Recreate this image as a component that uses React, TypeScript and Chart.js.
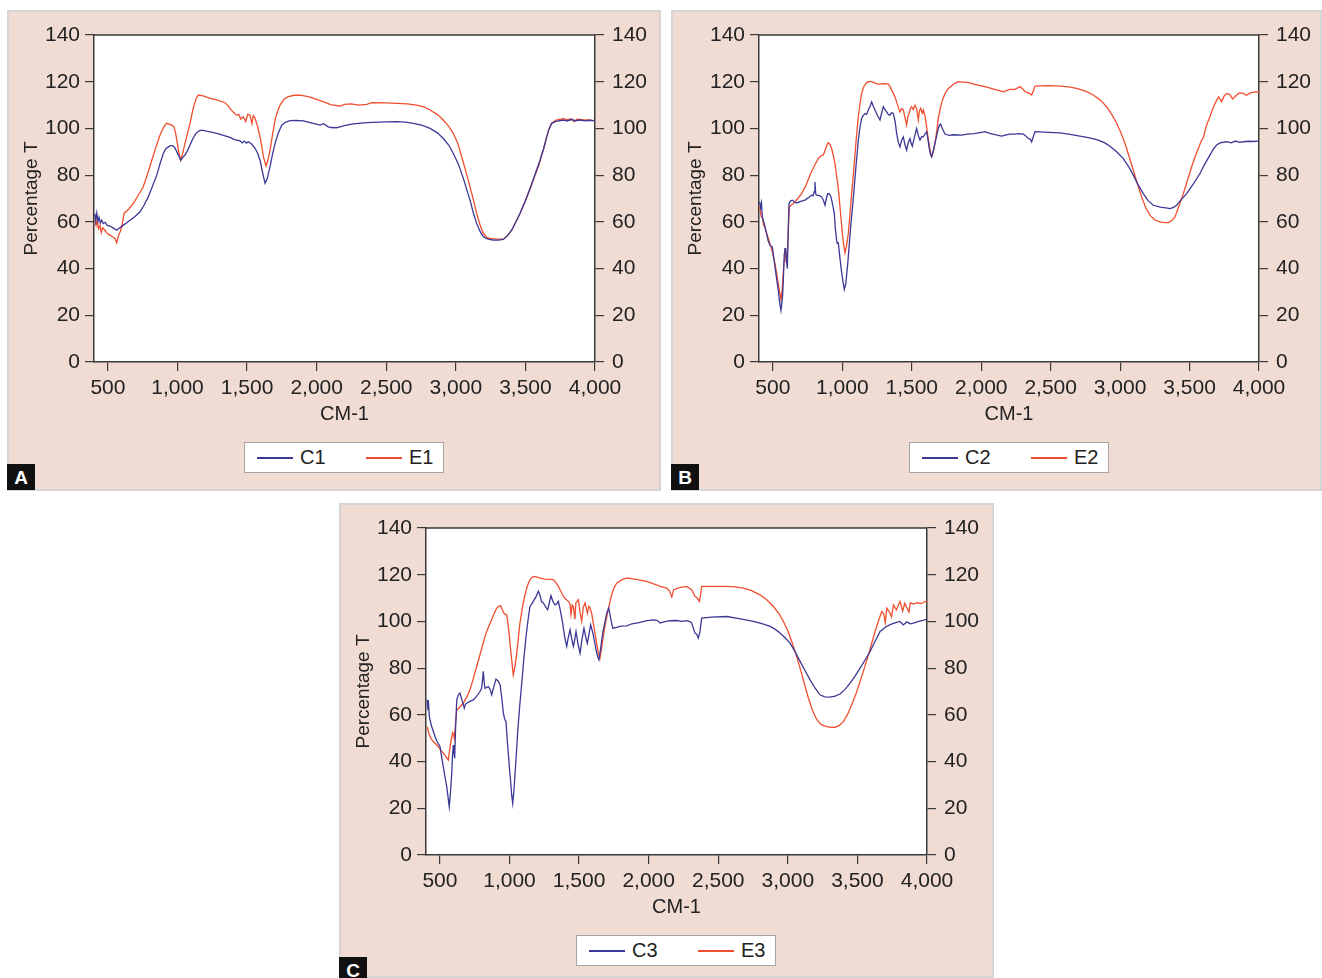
import React, { useEffect, useRef } from 'react';
import { Chart, registerables } from 'chart.js';

Chart.register(...registerables);

const FONT = "'Liberation Sans', Arial, Helvetica, sans-serif";
const BG = '#f0dcd3';
const BLUE = '#3b3896';
const RED = '#f04e2e';
const AXIS = '#3a3a3a';
const TEXT = '#222222';

const X_TICKS = [500, 1000, 1500, 2000, 2500, 3000, 3500, 4000];
const Y_TICKS = [0, 20, 40, 60, 80, 100, 120, 140];
const X_TITLE = 'CM-1';
const Y_TITLE = 'Percentage T';

// Panel A
const C1: number[][] = [
  [405, 63.6], [412, 60.5], [420, 63.8], [428, 60.2], [436, 62.0], [445, 59.5], [455, 60.8], [467, 59.3],
  [480, 59.8], [495, 58.5], [515, 58.2], [540, 57.3], [563, 56.4], [585, 57.5], [611, 58.6], [635, 59.6],
  [659, 60.7], [695, 62.3], [731, 64.3], [760, 67.2], [790, 70.7], [820, 75.2], [851, 80.0], [875, 85.0],
  [898, 89.3], [915, 91.2], [934, 92.1], [950, 92.6], [965, 92.6], [978, 92.0], [989, 90.7], [1005, 88.8],
  [1023, 86.4], [1038, 87.6], [1054, 88.6], [1072, 90.5], [1090, 92.9], [1110, 95.6], [1133, 97.9], [1155, 99.0],
  [1174, 99.3], [1210, 98.8], [1250, 98.3], [1282, 97.9], [1330, 97.0], [1377, 96.2], [1410, 95.2], [1449, 94.7],
  [1465, 93.8], [1480, 94.6], [1495, 93.7], [1509, 94.3], [1535, 93.2], [1557, 91.5], [1575, 89.5], [1593, 86.4],
  [1610, 81.5], [1629, 76.5], [1645, 78.5], [1665, 83.6], [1683, 89.0], [1701, 93.6], [1725, 98.2], [1749, 101.4],
  [1775, 102.6], [1808, 103.3], [1850, 103.4], [1904, 103.2], [1960, 102.4], [2024, 101.4], [2050, 102.0], [2080, 100.8],
  [2100, 100.4], [2144, 100.3], [2168, 100.7], [2200, 101.2], [2250, 101.8], [2335, 102.4], [2400, 102.6], [2500, 102.8],
  [2575, 102.9], [2640, 102.7], [2695, 102.2], [2760, 101.3], [2815, 100.0], [2870, 98.0], [2910, 95.7], [2950, 92.8],
  [2982, 89.3], [3020, 84.5], [3054, 78.6], [3080, 73.5], [3102, 69.3], [3125, 64.0], [3150, 59.3], [3175, 55.8],
  [3198, 53.6], [3230, 52.6], [3269, 52.2], [3305, 52.2], [3341, 52.5], [3370, 54.0], [3401, 56.4], [3430, 59.8],
  [3461, 63.6], [3500, 69.0], [3533, 74.3], [3570, 80.5], [3605, 86.4], [3630, 91.2], [3653, 96.4], [3670, 99.8],
  [3689, 102.2], [3720, 103.0], [3773, 103.6], [3800, 103.2], [3830, 103.8], [3860, 103.3], [3892, 103.6], [3930, 103.2],
  [3960, 103.5], [3988, 103.3], [4000, 103.3],
];

const E1: number[][] = [
  [405, 60.7], [415, 58.5], [423, 61.0], [432, 57.0], [443, 58.5], [452, 55.5], [462, 57.5], [479, 56.4],
  [495, 55.0], [515, 54.3], [535, 53.5], [551, 52.9], [563, 51.0], [575, 54.0], [582, 55.0], [590, 56.0],
  [599, 57.9], [616, 63.6], [650, 65.5], [682, 67.9], [720, 71.5], [754, 75.0], [785, 80.5], [815, 86.4],
  [845, 92.0], [874, 97.1], [900, 100.5], [922, 102.2], [940, 101.8], [958, 101.4], [975, 100.7], [988, 97.5],
  [999, 93.6], [1010, 89.5], [1023, 86.4], [1038, 89.5], [1054, 93.6], [1072, 98.0], [1090, 102.2], [1105, 106.5],
  [1119, 110.0], [1135, 113.0], [1150, 114.3], [1185, 113.9], [1230, 113.0], [1282, 112.2], [1341, 111.0], [1360, 110.0],
  [1377, 108.6], [1400, 107.0], [1425, 105.7], [1440, 106.0], [1455, 104.0], [1473, 105.0], [1490, 103.0], [1505, 106.0],
  [1521, 105.7], [1535, 102.0], [1545, 105.5], [1557, 104.3], [1575, 101.0], [1593, 96.4], [1605, 92.5], [1617, 87.9],
  [1636, 83.9], [1650, 86.5], [1665, 90.7], [1683, 97.5], [1701, 103.6], [1720, 107.5], [1737, 110.0], [1765, 112.5],
  [1796, 113.6], [1840, 114.2], [1880, 114.3], [1940, 113.6], [2000, 112.4], [2050, 111.4], [2100, 110.2], [2144, 109.8],
  [2168, 109.6], [2200, 110.3], [2250, 110.5], [2300, 110.0], [2360, 110.3], [2396, 111.0], [2500, 110.9], [2575, 110.7],
  [2650, 110.5], [2719, 110.0], [2770, 109.2], [2815, 107.9], [2870, 105.8], [2910, 103.6], [2950, 100.8], [2982, 97.9],
  [3015, 93.5], [3042, 87.9], [3075, 81.0], [3102, 75.0], [3128, 69.0], [3150, 63.6], [3175, 58.5], [3198, 55.0],
  [3225, 53.2], [3246, 52.9], [3290, 52.6], [3341, 52.6], [3370, 54.0], [3401, 56.4], [3430, 59.8], [3461, 63.6],
  [3500, 69.0], [3533, 74.0], [3570, 80.0], [3595, 84.0], [3605, 86.0], [3615, 88.5], [3630, 91.0], [3653, 96.4],
  [3670, 99.8], [3689, 102.2], [3720, 103.6], [3773, 104.2], [3800, 103.8], [3830, 104.2], [3850, 102.8], [3870, 104.0],
  [3892, 103.9], [3930, 103.6], [3960, 103.7], [3988, 103.3], [4000, 103.3],
];

// Panel B
const C2: number[][] = [
  [405, 68.6], [412, 66.0], [418, 68.0], [424, 62.1], [431, 60.5], [438, 59.3], [446, 57.0], [455, 55.0],
  [465, 52.0], [479, 50.0], [488, 49.5], [496, 49.3], [505, 45.0], [515, 40.7], [527, 35.5], [539, 30.7],
  [550, 25.0], [558, 22.1], [565, 25.5], [571, 29.3], [577, 38.0], [582, 46.4], [586, 48.5], [592, 48.6],
  [597, 44.0], [604, 40.0], [610, 55.0], [616, 67.9], [628, 69.0], [640, 69.3], [655, 68.5], [671, 68.1],
  [700, 68.8], [731, 69.3], [760, 70.5], [779, 71.4], [790, 71.2], [798, 73.0], [803, 77.1], [808, 72.0],
  [815, 71.4], [835, 71.2], [851, 70.7], [862, 69.5], [875, 67.1], [885, 70.0], [895, 72.1], [907, 72.0],
  [918, 70.7], [930, 67.5], [942, 63.6], [950, 57.0], [959, 52.1], [964, 50.8], [971, 51.0], [980, 46.0],
  [990, 40.7], [1002, 35.5], [1014, 31.0], [1025, 33.5], [1039, 42.1], [1050, 50.5], [1062, 59.3], [1075, 67.5],
  [1086, 75.0], [1100, 85.0], [1115, 95.0], [1127, 100.5], [1139, 104.3], [1150, 105.5], [1163, 106.4], [1175, 106.0],
  [1187, 107.9], [1200, 109.5], [1211, 111.4], [1223, 109.5], [1235, 107.9], [1253, 105.5], [1271, 103.6], [1283, 106.5],
  [1295, 109.3], [1307, 108.0], [1319, 107.1], [1331, 106.0], [1343, 105.7], [1355, 106.8], [1367, 106.4], [1380, 103.0],
  [1391, 97.9], [1403, 94.0], [1415, 92.1], [1427, 95.0], [1439, 96.4], [1451, 93.0], [1463, 90.7], [1475, 94.0],
  [1487, 95.7], [1496, 93.5], [1504, 92.4], [1520, 96.5], [1535, 100.0], [1547, 97.0], [1559, 95.0], [1571, 96.5],
  [1583, 96.4], [1595, 97.5], [1607, 98.6], [1615, 96.0], [1624, 92.1], [1634, 89.0], [1643, 87.9], [1655, 90.5],
  [1667, 93.6], [1680, 97.0], [1691, 100.0], [1700, 101.5], [1708, 101.9], [1720, 100.0], [1739, 97.6], [1770, 97.0],
  [1800, 97.3], [1859, 97.1], [1900, 97.6], [1950, 97.8], [1990, 98.2], [2027, 98.6], [2060, 97.9], [2100, 97.3],
  [2147, 96.7], [2180, 97.2], [2207, 97.6], [2243, 97.6], [2270, 97.8], [2303, 97.6], [2320, 96.8], [2339, 95.7],
  [2352, 95.5], [2363, 94.3], [2375, 96.5], [2387, 98.6], [2450, 98.4], [2567, 98.1], [2640, 97.5], [2711, 96.7],
  [2780, 96.0], [2843, 95.0], [2890, 93.8], [2927, 92.4], [2975, 90.0], [3023, 87.1], [3060, 83.8], [3095, 80.0],
  [3130, 75.8], [3167, 72.1], [3200, 69.2], [3239, 67.1], [3290, 66.3], [3330, 66.0], [3359, 65.7], [3385, 66.2],
  [3407, 67.1], [3440, 69.5], [3479, 72.1], [3530, 76.5], [3575, 80.7], [3610, 84.8], [3647, 88.6], [3670, 91.0],
  [3695, 92.9], [3720, 93.8], [3767, 94.3], [3800, 93.8], [3830, 94.6], [3860, 94.0], [3887, 94.3], [3920, 94.5],
  [3950, 94.4], [3995, 94.6], [4000, 94.6],
];

const E2: number[][] = [
  [405, 66.4], [415, 62.5], [425, 61.5], [433, 58.5], [443, 57.9], [455, 55.0], [467, 53.0], [479, 50.7],
  [497, 47.0], [515, 42.1], [527, 38.0], [539, 33.6], [550, 29.5], [558, 26.7], [566, 30.5], [573, 36.4],
  [580, 43.0], [587, 48.6], [594, 46.0], [601, 42.1], [608, 52.0], [618, 66.4], [632, 67.2], [647, 67.9],
  [677, 69.8], [707, 72.1], [737, 75.5], [767, 80.0], [797, 83.8], [827, 87.1], [845, 88.3], [863, 88.6],
  [872, 90.0], [880, 91.4], [890, 93.0], [899, 93.9], [910, 93.2], [923, 91.4], [935, 88.5], [947, 85.0],
  [957, 80.5], [967, 76.4], [975, 72.0], [983, 66.4], [992, 60.5], [1000, 55.0], [1010, 50.0], [1019, 46.7],
  [1030, 49.5], [1043, 55.0], [1055, 63.5], [1067, 72.1], [1078, 79.5], [1086, 85.0], [1100, 95.5], [1115, 105.0],
  [1127, 110.5], [1139, 115.0], [1157, 118.2], [1175, 119.6], [1195, 120.1], [1211, 120.0], [1235, 119.4], [1259, 119.0],
  [1295, 119.2], [1331, 119.0], [1343, 118.0], [1355, 116.4], [1367, 115.0], [1379, 113.6], [1395, 110.5], [1415, 107.1],
  [1427, 108.5], [1439, 107.9], [1450, 105.0], [1463, 101.4], [1472, 105.0], [1480, 106.4], [1490, 108.5], [1499, 109.3],
  [1511, 108.0], [1523, 110.0], [1535, 108.5], [1547, 103.6], [1555, 107.5], [1564, 108.6], [1575, 106.5], [1583, 107.9],
  [1595, 105.5], [1607, 100.7], [1615, 97.0], [1624, 93.6], [1634, 90.0], [1643, 87.9], [1655, 90.0], [1667, 93.6],
  [1680, 99.0], [1691, 104.3], [1705, 108.5], [1720, 112.1], [1740, 115.0], [1763, 117.1], [1800, 118.9], [1835, 120.0],
  [1870, 119.8], [1907, 119.6], [1960, 118.8], [2027, 117.9], [2090, 116.8], [2130, 116.2], [2159, 115.7], [2185, 116.3],
  [2207, 116.7], [2243, 116.7], [2279, 117.9], [2300, 116.8], [2315, 115.7], [2340, 115.2], [2363, 114.3], [2375, 116.0],
  [2387, 118.1], [2480, 118.3], [2567, 118.1], [2630, 117.8], [2687, 117.1], [2750, 116.0], [2807, 114.3], [2860, 112.0],
  [2903, 109.3], [2940, 106.0], [2975, 102.2], [3005, 98.3], [3035, 93.6], [3065, 88.0], [3095, 82.1], [3125, 76.2],
  [3155, 70.7], [3185, 66.0], [3215, 62.9], [3250, 60.8], [3287, 60.0], [3320, 59.7], [3347, 59.7], [3372, 60.6],
  [3395, 62.1], [3425, 67.0], [3455, 72.1], [3485, 77.8], [3515, 83.6], [3550, 89.5], [3587, 95.0], [3600, 96.0],
  [3615, 100.0], [3630, 102.5], [3647, 105.0], [3670, 109.0], [3695, 112.1], [3710, 113.5], [3731, 111.4], [3750, 114.0],
  [3767, 115.0], [3790, 114.5], [3810, 112.6], [3839, 114.3], [3860, 115.2], [3887, 115.0], [3910, 114.2], [3940, 115.3],
  [3970, 115.5], [3995, 115.7], [4000, 115.7],
];

// Panel C
const C3: number[][] = [
  [409, 66.4], [414, 62.0], [419, 64.0], [424, 59.3], [432, 57.0], [441, 55.0], [452, 53.0], [465, 50.7],
  [480, 48.5], [501, 46.4], [512, 42.0], [524, 37.9], [536, 33.5], [549, 29.3], [558, 25.0], [567, 20.7],
  [576, 27.0], [585, 35.0], [590, 42.0], [596, 47.1], [601, 44.0], [606, 41.4], [613, 55.0], [621, 66.4],
  [632, 68.5], [644, 69.3], [660, 66.0], [675, 62.9], [683, 64.5], [692, 65.0], [716, 65.8], [740, 66.4],
  [765, 68.0], [788, 70.0], [800, 71.5], [812, 78.6], [818, 74.0], [824, 71.4], [848, 72.1], [860, 71.0],
  [872, 68.6], [887, 72.0], [903, 75.3], [918, 74.5], [932, 72.9], [945, 67.0], [956, 60.7], [966, 58.0],
  [975, 57.1], [983, 50.0], [991, 43.6], [1000, 37.0], [1009, 30.7], [1016, 25.5], [1023, 22.1], [1031, 27.0],
  [1040, 35.0], [1050, 44.0], [1059, 52.9], [1073, 63.5], [1088, 73.6], [1103, 84.0], [1119, 93.6], [1133, 100.5],
  [1147, 106.4], [1160, 107.5], [1171, 108.6], [1190, 110.5], [1207, 112.9], [1220, 111.0], [1230, 108.5], [1243, 107.9],
  [1260, 106.2], [1274, 105.0], [1286, 108.0], [1298, 111.0], [1312, 108.5], [1327, 107.1], [1340, 107.5], [1351, 108.6],
  [1366, 104.5], [1382, 99.3], [1396, 93.5], [1411, 89.3], [1422, 93.0], [1435, 96.4], [1447, 92.5], [1459, 89.3],
  [1468, 92.0], [1478, 95.7], [1492, 90.5], [1507, 86.4], [1520, 92.0], [1535, 97.1], [1547, 93.5], [1559, 90.7],
  [1571, 94.5], [1583, 98.6], [1602, 94.3], [1612, 91.0], [1622, 87.9], [1633, 85.0], [1643, 83.6], [1656, 89.0],
  [1670, 95.0], [1685, 99.5], [1699, 103.6], [1713, 105.7], [1728, 101.0], [1742, 97.1], [1770, 97.5], [1800, 98.0],
  [1842, 98.1], [1880, 99.0], [1930, 99.5], [1980, 100.2], [2033, 100.7], [2060, 100.5], [2082, 99.3], [2110, 99.8],
  [2153, 100.3], [2200, 100.4], [2240, 100.0], [2273, 100.3], [2300, 99.8], [2309, 99.3], [2333, 95.0], [2345, 94.5],
  [2357, 92.9], [2368, 95.5], [2381, 101.4], [2450, 101.8], [2561, 102.1], [2650, 101.2], [2753, 100.0], [2820, 99.0],
  [2872, 97.9], [2910, 96.6], [2944, 95.0], [2980, 93.0], [3016, 90.7], [3050, 87.3], [3088, 82.9], [3125, 78.8],
  [3160, 75.0], [3195, 71.5], [3231, 68.6], [3265, 67.7], [3303, 67.6], [3340, 68.0], [3375, 68.9], [3410, 70.8],
  [3447, 73.6], [3483, 76.6], [3519, 80.0], [3555, 83.5], [3591, 87.1], [3627, 91.5], [3663, 95.7], [3700, 97.5],
  [3735, 98.6], [3770, 99.4], [3806, 100.0], [3830, 98.5], [3855, 99.8], [3880, 99.0], [3902, 99.3], [3940, 100.0],
  [3970, 100.4], [3998, 101.0], [4000, 101.0],
];

const E3: number[][] = [
  [409, 55.0], [418, 52.5], [429, 50.7], [440, 49.5], [452, 48.6], [470, 47.5], [488, 46.4], [505, 45.0],
  [524, 43.6], [542, 42.2], [560, 40.7], [568, 44.0], [577, 47.9], [585, 50.5], [592, 52.4], [598, 51.5],
  [603, 50.0], [612, 56.0], [621, 62.1], [645, 63.5], [668, 65.0], [692, 67.5], [716, 70.7], [740, 75.5],
  [764, 80.7], [794, 87.0], [824, 93.6], [848, 97.5], [872, 100.7], [890, 103.5], [908, 105.7], [922, 106.5],
  [937, 106.7], [948, 105.0], [960, 103.6], [970, 103.0], [980, 102.9], [990, 98.5], [999, 93.6], [1013, 85.0],
  [1027, 77.1], [1040, 81.0], [1052, 86.4], [1064, 93.0], [1075, 99.3], [1093, 106.0], [1111, 111.4], [1129, 115.3],
  [1147, 117.9], [1165, 119.0], [1183, 119.3], [1220, 118.5], [1255, 118.1], [1290, 118.0], [1315, 117.9], [1335, 116.5],
  [1351, 115.0], [1370, 112.8], [1387, 110.7], [1405, 109.5], [1423, 108.6], [1435, 107.5], [1442, 103.0], [1450, 107.0],
  [1459, 106.4], [1470, 101.0], [1477, 108.0], [1495, 109.3], [1507, 104.0], [1519, 100.0], [1530, 106.0], [1543, 107.9],
  [1560, 103.5], [1570, 106.5], [1579, 105.7], [1592, 103.0], [1602, 99.3], [1614, 95.0], [1626, 90.7], [1638, 86.5],
  [1650, 84.3], [1662, 88.5], [1674, 93.6], [1686, 98.0], [1699, 102.1], [1716, 107.0], [1734, 111.4], [1752, 114.5],
  [1770, 116.4], [1805, 117.8], [1842, 118.6], [1880, 118.3], [1930, 117.8], [1986, 117.1], [2050, 115.8], [2082, 115.0],
  [2110, 114.6], [2129, 114.3], [2150, 113.0], [2166, 110.5], [2180, 113.6], [2220, 114.5], [2273, 115.0], [2309, 113.6],
  [2333, 110.7], [2350, 110.0], [2364, 108.6], [2372, 111.0], [2381, 115.0], [2480, 115.0], [2561, 115.0], [2620, 114.8],
  [2680, 114.3], [2740, 113.2], [2800, 111.4], [2850, 109.2], [2896, 106.4], [2935, 103.5], [2968, 100.0], [3000, 96.0],
  [3028, 91.4], [3058, 86.0], [3088, 80.0], [3118, 73.5], [3148, 67.1], [3178, 61.8], [3208, 57.9], [3240, 55.8],
  [3279, 55.0], [3310, 54.6], [3339, 54.7], [3370, 55.5], [3399, 57.1], [3430, 60.3], [3459, 64.3], [3490, 69.0],
  [3519, 74.3], [3550, 80.0], [3579, 85.7], [3600, 90.0], [3627, 95.7], [3650, 100.0], [3675, 104.3], [3690, 103.0],
  [3700, 99.5], [3711, 105.7], [3730, 104.0], [3745, 102.0], [3759, 107.1], [3780, 105.0], [3806, 108.6], [3825, 104.5],
  [3840, 107.8], [3854, 106.0], [3870, 104.0], [3880, 108.0], [3902, 107.4], [3930, 108.0], [3960, 107.6], [3980, 108.4],
  [3998, 108.6], [4000, 108.6],
];

type Area = { l: number; r: number; t: number; b: number };
type PanelDef = {
  x: number; y: number; w: number; h: number; area: Area;
  c: number[][]; e: number[][]; cLabel: string; eLabel: string;
  letter: string; letterY: number; legendX: number; legendY: number;
};

const PANELS: PanelDef[] = [
  { x: 7, y: 10, w: 654, h: 481, area: { l: 87, r: 588, t: 25, b: 352 }, c: C1, e: E1, cLabel: 'C1', eLabel: 'E1', letter: 'A', letterY: 464, legendX: 244, legendY: 442 },
  { x: 671, y: 10, w: 651, h: 481, area: { l: 88, r: 588, t: 25, b: 352 }, c: C2, e: E2, cLabel: 'C2', eLabel: 'E2', letter: 'B', letterY: 464, legendX: 909, legendY: 442 },
  { x: 339, y: 503, w: 655, h: 475, area: { l: 87, r: 588, t: 25, b: 352 }, c: C3, e: E3, cLabel: 'C3', eLabel: 'E3', letter: 'C', letterY: 957, legendX: 576, legendY: 935 },
];

const toPoints = (arr: number[][]) => arr.map(([x, y]) => ({ x, y }));
const fmt = (v: any) => Number(v).toLocaleString('en-US');

const framePlugin = {
  id: 'frame',
  beforeDraw(chart: any) {
    const { ctx, chartArea: a } = chart;
    ctx.save();
    ctx.fillStyle = '#ffffff';
    ctx.fillRect(a.left, a.top, a.right - a.left, a.bottom - a.top);
    ctx.restore();
  },
  afterDraw(chart: any) {
    const { ctx, chartArea: a } = chart;
    ctx.save();
    ctx.strokeStyle = AXIS;
    ctx.lineWidth = 1.5;
    ctx.beginPath();
    ctx.moveTo(a.left, a.top);
    ctx.lineTo(a.right, a.top);
    ctx.stroke();
    ctx.restore();
  },
};

function Panel({ p }: { p: PanelDef }) {
  const ref = useRef<HTMLCanvasElement>(null);
  useEffect(() => {
    const xH = 64;
    const tickFont = { family: FONT, size: 21 };
    const xTitleFont = { family: FONT, size: 20 };
    const yTitleFont = { family: FONT, size: 19 };
    const grid = { drawOnChartArea: false, drawTicks: true, tickLength: 9, color: AXIS, lineWidth: 1.2 };
    const border = { display: true, color: AXIS, width: 1.5 };
    const yTicksSetter = (s: any) => { s.ticks = Y_TICKS.map((v) => ({ value: v })); };
    const chart = new Chart(ref.current as HTMLCanvasElement, {
      type: 'line',
      data: {
        datasets: [
          { label: p.cLabel, data: toPoints(p.c), borderColor: BLUE, backgroundColor: BLUE, borderWidth: 1.3, pointRadius: 0, tension: 0, fill: false },
          { label: p.eLabel, data: toPoints(p.e), borderColor: RED, backgroundColor: RED, borderWidth: 1.3, pointRadius: 0, tension: 0, fill: false },
        ],
      },
      options: {
        animation: false,
        responsive: false,
        maintainAspectRatio: false,
        parsing: false as any,
        layout: { padding: { left: 0, right: 0, top: p.area.t, bottom: p.h - p.area.b - xH } },
        plugins: { legend: { display: false }, tooltip: { enabled: false } },
        scales: {
          x: {
            type: 'linear', position: 'bottom', min: 400, max: 4000,
            afterBuildTicks: (s: any) => { s.ticks = X_TICKS.map((v) => ({ value: v })); },
            afterFit: (s: any) => { s.height = xH; },
            grid, border,
            ticks: { font: tickFont, color: TEXT, padding: 5, maxRotation: 0, autoSkip: false, callback: fmt },
            title: { display: true, text: X_TITLE, font: xTitleFont, color: TEXT, padding: 0 },
          },
          y: {
            type: 'linear', position: 'left', min: 0, max: 140,
            afterBuildTicks: yTicksSetter,
            afterFit: (s: any) => { s.width = p.area.l; },
            grid, border,
            ticks: { font: tickFont, color: TEXT, padding: 5 },
            title: { display: true, text: Y_TITLE, font: yTitleFont, color: TEXT, padding: { top: 13, bottom: 0 } },
          },
          y2: {
            type: 'linear', position: 'right', min: 0, max: 140,
            afterBuildTicks: yTicksSetter,
            afterFit: (s: any) => { s.width = p.w - p.area.r; },
            grid, border,
            ticks: { font: tickFont, color: TEXT, padding: 8 },
          },
        },
      } as any,
      plugins: [framePlugin],
    });
    return () => chart.destroy();
  }, []);

  const legendText: React.CSSProperties = { position: 'absolute', top: 2, font: `20px ${FONT}`, lineHeight: '24px', color: TEXT };
  return (
    <>
      <div style={{ position: 'absolute', left: p.x, top: p.y, width: p.w, height: p.h, background: BG, border: '2px solid #d5d5d5', boxSizing: 'border-box' }} />
      <canvas ref={ref} width={p.w} height={p.h} style={{ position: 'absolute', left: p.x, top: p.y, width: p.w, height: p.h }} />
      <div style={{ position: 'absolute', left: p.legendX, top: p.legendY, width: 200, height: 31, background: '#ffffff', border: '1.5px solid #a6a6a6', boxSizing: 'border-box' }}>
        <div style={{ position: 'absolute', left: 12, top: 13.5, width: 36, height: 2, background: BLUE }} />
        <span style={{ ...legendText, left: 55 }}>{p.cLabel}</span>
        <div style={{ position: 'absolute', left: 121, top: 13.5, width: 36, height: 2, background: RED }} />
        <span style={{ ...legendText, left: 164 }}>{p.eLabel}</span>
      </div>
      <div style={{ position: 'absolute', left: p.x, top: p.letterY, width: 28, height: 26, background: '#111111', color: '#ffffff', font: `bold 19px ${FONT}`, lineHeight: '27px', textAlign: 'center' }}>{p.letter}</div>
    </>
  );
}

export default function App() {
  useEffect(() => {
    document.documentElement.style.overflow = 'hidden';
    document.body.style.overflow = 'hidden';
  }, []);
  return (
    <div style={{ position: 'absolute', left: 0, top: 0, width: 1322, height: 978, overflow: 'hidden', background: '#ffffff' }}>
      {PANELS.map((p) => <Panel key={p.letter} p={p} />)}
    </div>
  );
}
